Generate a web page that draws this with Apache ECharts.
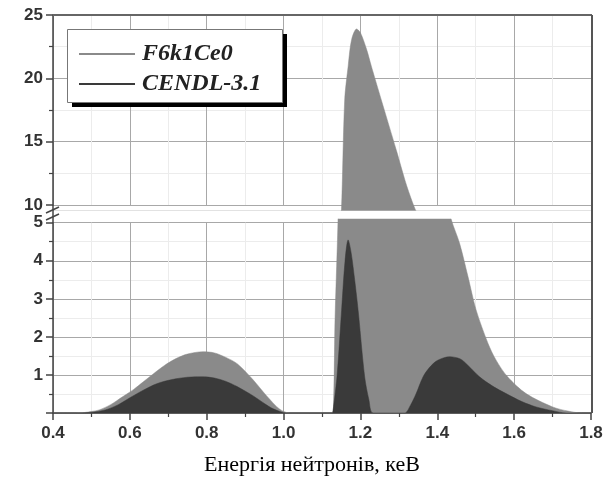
<!DOCTYPE html>
<html>
<head>
<meta charset="utf-8">
<script src="https://cdn.jsdelivr.net/npm/echarts@6/dist/echarts.min.js"></script>
<style>html,body{margin:0;padding:0;background:#fff}#c{width:614px;height:481px}</style>
</head>
<body>
<div id="c"></div>
<script>
// ---- data ----
var seriesNames = ['F6k1Ce0', 'CENDL-3.1'];
var xTickLabels = ['0.4','0.6','0.8','1.0','1.2','1.4','1.6','1.8'];
var yTicksLower = [1, 2, 3, 4, 5];
var yTicksUpper = [10, 15, 20, 25];
var axisTitle = 'Енергія нейтронів, кеВ';

var xGray = [0.40,0.46,0.48,0.50,0.52,0.55,0.58,0.61,0.635,0.66,0.69,0.72,0.75,0.79,0.82,0.85,0.88,0.92,0.956,0.99,1.016,1.12,
             1.128,1.134,1.142,1.1506,1.159,1.168,1.177,1.19,1.20,1.216,1.2286,1.2545,1.2935,1.32,1.344,1.37,1.40,1.436,
             1.458,1.48,1.501,1.532,1.553,1.583,1.631,1.70,1.74,1.777,1.80];
var yGray = [0,0,0.01,0.04,0.08,0.22,0.42,0.62,0.82,1.02,1.25,1.43,1.55,1.61,1.58,1.46,1.29,0.88,0.45,0.10,0,0,
             0,2.5,5.2,9.6,18.3,20.95,23.06,23.9,23.6,22.3,20.95,18.3,14.35,11.6,9.6,8.0,6.6,5.1,
             4.46,3.58,2.71,1.83,1.39,0.95,0.51,0.16,0.05,0,0];

var xDark = [0.40,0.47,0.50,0.536,0.57,0.60,0.635,0.67,0.71,0.75,0.79,0.82,0.85,0.878,0.921,0.95,0.973,1.008,1.128,
             1.129,1.139,1.151,1.160,1.168,1.176,1.185,1.194,1.211,1.222,1.233,1.315,
             1.33,1.345,1.363,1.38,1.40,1.432,1.46,1.48,1.51,1.545,1.579,1.62,1.657,1.70,1.735,1.80];
var yDark = [0,0,0.02,0.08,0.22,0.40,0.60,0.77,0.88,0.94,0.95,0.92,0.83,0.70,0.45,0.25,0.11,0,0,
             0,0.95,2.7,4.0,4.55,4.2,3.5,2.7,0.95,0.35,0,0,
             0.2,0.51,0.95,1.2,1.38,1.48,1.42,1.25,0.95,0.7,0.51,0.3,0.16,0.06,0,0];

function zip(xs, ys) { return xs.map(function (x, i) { return [x, ys[i]]; }); }

var grayColor = '#8a8a8a';
var darkColor = '#3a3a3a';
var labelFont = { fontFamily: 'Liberation Sans', fontWeight: 'bold', fontSize: 17, color: '#333' };

var L = 53, W = 538;
var upTop = 15, upH = 190;          // visible upper axis: 10..25
var loTop = 222.7, loH = 190.3;     // visible lower axis: 0..5
var axisLineStyle = { color: '#444', width: 1.5 };

var chart = echarts.init(document.getElementById('c'), null, { renderer: 'canvas' });

function xAxisCommon(gi, showLabels) {
  return {
    type: 'value', gridIndex: gi, min: 0.4, max: 1.8, interval: 0.2,
    axisLine: { show: showLabels, lineStyle: axisLineStyle, onZero: false },
    axisTick: { show: showLabels, length: 7, lineStyle: axisLineStyle },
    minorTick: { show: showLabels, splitNumber: 2, length: 4, lineStyle: { color: '#444', width: 1.2 } },
    axisLabel: Object.assign({ show: showLabels, margin: 12, formatter: function (v) {
      var s = v.toFixed(1); return xTickLabels.indexOf(s) >= 0 ? s : ''; } }, labelFont),
    splitLine: { show: true, lineStyle: { color: '#a8a8a8', width: 1 } },
    minorSplitLine: { show: true, lineStyle: { color: '#ececec', width: 1 } }
  };
}

function areaSeries(name, xi, yi, xs, ys, color, z) {
  return {
    name: name, type: 'line', xAxisIndex: xi, yAxisIndex: yi,
    data: zip(xs, ys), showSymbol: false, symbol: 'none', color: color,
    smooth: 0.3,
    lineStyle: { color: color, width: 0.5 }, areaStyle: { color: color, opacity: 1 }, z: z
  };
}

var option = {
  backgroundColor: '#fff',
  animation: false,
  grid: [
    { left: L, top: upTop, width: W, height: upH },
    { left: L, top: loTop, width: W, height: loH },
    { left: L, top: upTop, width: W, height: 195.7 },
    { left: L, top: 219, width: W, height: 194 }
  ],
  xAxis: [
    xAxisCommon(0, false),
    xAxisCommon(1, true),
    { type: 'value', gridIndex: 2, min: 0.4, max: 1.8, show: false },
    { type: 'value', gridIndex: 3, min: 0.4, max: 1.8, show: false }
  ],
  yAxis: [
    {
      type: 'value', gridIndex: 0, min: 10, max: 25, interval: 5,
      axisLine: { show: true, lineStyle: axisLineStyle },
      axisTick: { show: true, length: 7, lineStyle: axisLineStyle },
      minorTick: { show: true, splitNumber: 2, length: 4, lineStyle: { color: '#444', width: 1.2 } },
      axisLabel: Object.assign({ margin: 10, formatter: function (v) {
        return yTicksUpper.indexOf(v) >= 0 ? String(v) : ''; } }, labelFont),
      splitLine: { show: true, lineStyle: { color: '#a8a8a8', width: 1 } },
      minorSplitLine: { show: true, lineStyle: { color: '#ececec', width: 1 } }
    },
    {
      type: 'value', gridIndex: 1, min: 0, max: 5, interval: 1,
      axisLine: { show: true, lineStyle: axisLineStyle },
      axisTick: { show: true, length: 7, lineStyle: axisLineStyle },
      minorTick: { show: true, splitNumber: 2, length: 4, lineStyle: { color: '#444', width: 1.2 } },
      axisLabel: Object.assign({ margin: 10, formatter: function (v) {
        return yTicksLower.indexOf(v) >= 0 ? String(v) : ''; } }, labelFont),
      splitLine: { show: true, lineStyle: { color: '#a8a8a8', width: 1 } },
      minorSplitLine: { show: true, lineStyle: { color: '#ececec', width: 1 } }
    },
    { type: 'value', gridIndex: 2, min: 9.6, max: 25, show: false },
    { type: 'value', gridIndex: 3, min: 0, max: 5.1, show: false }
  ],
  legend: {
    data: seriesNames,
    orient: 'vertical',
    left: 67, top: 29,
    padding: [13, 18, 8, 12],
    itemGap: 6,
    itemWidth: 56, itemHeight: 2,
    icon: 'rect',
    textStyle: { fontFamily: 'Liberation Serif', fontStyle: 'italic', fontWeight: 'bold', fontSize: 24, color: '#222', padding: [0, 0, 0, 2] },
    z: 12
  },
  series: [
    areaSeries(seriesNames[0], 2, 2, xGray, yGray, grayColor, 3),
    areaSeries(seriesNames[0], 3, 3, xGray, yGray, grayColor, 3),
    areaSeries(seriesNames[1], 3, 3, xDark, yDark, darkColor, 4)
  ],
  graphic: [
    // frame: top and right borders
    { type: 'line', shape: { x1: L, y1: upTop, x2: L + W + 1, y2: upTop }, style: { stroke: '#666', lineWidth: 2 }, z: 5 },
    { type: 'line', shape: { x1: L + W + 1, y1: upTop, x2: L + W + 1, y2: loTop + loH }, style: { stroke: '#555', lineWidth: 2 }, z: 5 },
    // axis continuation through the break
    { type: 'line', shape: { x1: L, y1: upTop + upH, x2: L, y2: loTop }, style: { stroke: '#444', lineWidth: 1.5 }, z: 5 },
    // break marks
    { type: 'line', shape: { x1: 46, y1: 213, x2: 59, y2: 207 }, style: { stroke: '#444', lineWidth: 1.5 }, z: 6 },
    { type: 'line', shape: { x1: 46, y1: 220, x2: 59, y2: 214 }, style: { stroke: '#444', lineWidth: 1.5 }, z: 6 },
    // legend box with shadow
    { type: 'rect', shape: { x: 72, y: 34, width: 215, height: 73 }, style: { fill: '#000' }, z: 8 },
    { type: 'rect', shape: { x: 67.5, y: 29.5, width: 215, height: 73 }, style: { fill: '#fff', stroke: '#777', lineWidth: 1 }, z: 9 },
    // axis title
    { type: 'text', x: 312, y: 465, style: { text: axisTitle, fontFamily: 'Liberation Serif', fontSize: 22, fill: '#000', align: 'center', verticalAlign: 'middle' }, z: 6 }
  ]
};
chart.setOption(option);
</script>
</body>
</html>
